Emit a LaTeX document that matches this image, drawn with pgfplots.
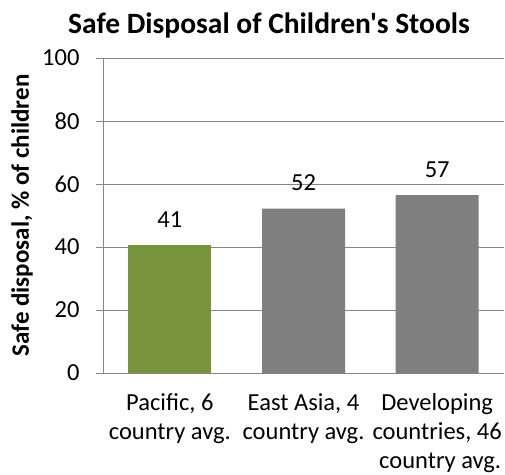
\documentclass[border=0pt]{standalone}
\usepackage{pgfplots}
\pgfplotsset{compat=1.18}
\usepackage{fontspec}
\setmainfont{Carlito}[Ligatures=TeXOff]
\definecolor{bargreen}{HTML}{77933C}
\definecolor{bargray}{HTML}{7F7F7F}
\definecolor{axgray}{HTML}{868686}
\begin{document}
\begin{tikzpicture}
\path[use as bounding box] (-103bp,-102bp) rectangle (402bp,373bp);
\begin{axis}[
  at={(0,0)}, anchor=south west,
  scale only axis, width=401bp, height=315bp,
  xmin=-0.5, xmax=2.5, ymin=0, ymax=100,
  axis x line*=bottom, axis y line*=left,
  axis line style={draw=axgray, line width=0.8pt},
  ytick={0,20,...,100},
  ymajorgrids, grid style={draw=axgray, line width=0.8pt},
  tick align=outside,
  major tick length=7bp,
  tick style={draw=axgray, line width=0.8pt},
  xtick={0,1,2},
  xticklabels={{Pacific, 6\\country avg.},{East Asia, 4\\country avg.},{Developing\\countries, 46\\\hspace*{6bp}country avg.}},
  x tick label style={align=center, font=\fontsize{24.5bp}{29bp}\selectfont, yshift=-10bp},
  x tick style={draw=none},
  extra x ticks={-0.5,0.5,1.5,2.5},
  extra x tick labels={},
  extra x tick style={tick style={draw=axgray, line width=0.8pt}, major tick length=7bp, grid=none},
  y tick label style={font=\fontsize{24.5bp}{29bp}\selectfont, xshift=-13bp},
  /pgf/number format/assume math mode=true,
  ylabel={Safe disposal, \% of children},
  ylabel style={font=\fontsize{25bp}{30bp}\selectfont\bfseries, at={(axis description cs:-0.202,0.5)}, anchor=center},
  title={Safe Disposal of Children's Stools},
  title style={font=\fontsize{29.5bp}{34bp}\selectfont\bfseries, at={(axis description cs:0.414,1)}, anchor=center, yshift=27bp},
  nodes near coords,
  nodes near coords style={font=\fontsize{24.5bp}{29bp}\selectfont, black, yshift=14bp},
  point meta=explicit symbolic,
  clip=false,
]
\addplot[ybar, bar width=83bp, fill=bargreen, draw=none] coordinates {(0,40.5) [41]};
\addplot[ybar, bar width=83bp, fill=bargray, draw=none] coordinates {(1,52.2) [52] (2,56.5) [57]};
\end{axis}
\end{tikzpicture}
\end{document}
